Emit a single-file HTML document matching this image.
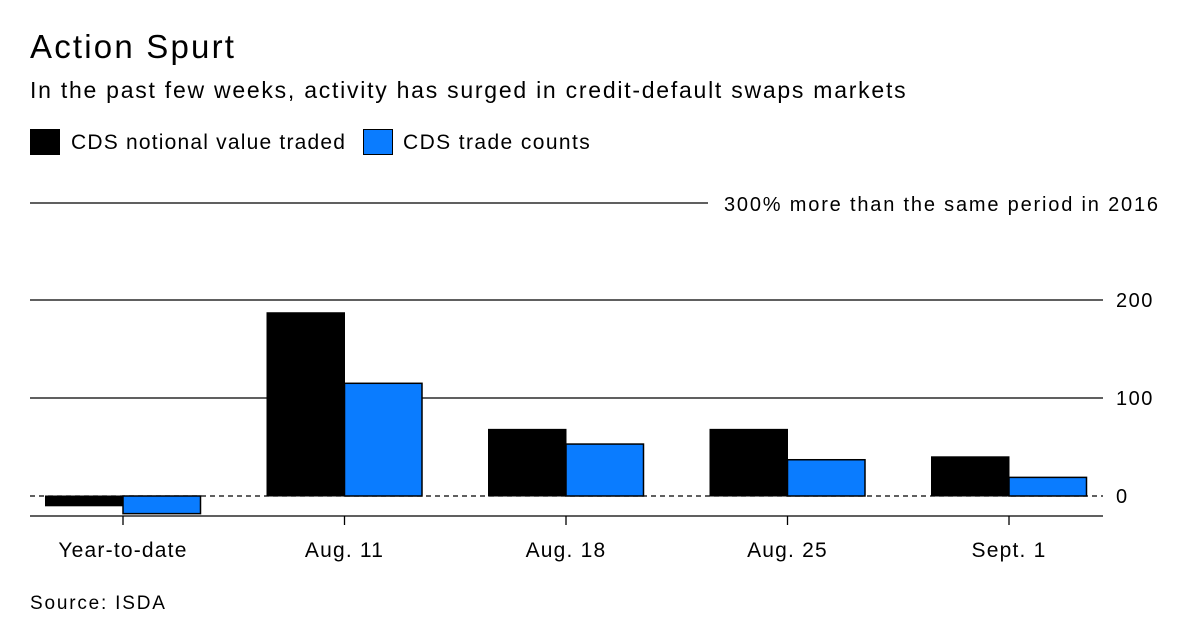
<!DOCTYPE html>
<html><head><meta charset="utf-8"><style>
body{margin:0;background:#fff;font-family:"Liberation Sans",sans-serif;}
#wrap{position:relative;width:1200px;height:637px;overflow:hidden;}
.t{position:absolute;white-space:nowrap;color:#000;}
</style></head><body>
<div id="wrap">
<div class="t" style="left:30px;top:28px;font-size:33px;letter-spacing:2.2px;">Action Spurt</div>
<div class="t" style="left:30px;top:77px;font-size:23px;letter-spacing:1.75px;">In the past few weeks, activity has surged in credit-default swaps markets</div>
<div style="position:absolute;left:30px;top:129px;width:30px;height:26px;background:#000;"></div>
<div class="t" style="left:71px;top:131px;font-size:21px;letter-spacing:1.2px;">CDS notional value traded</div>
<div style="position:absolute;left:363px;top:129px;width:28px;height:24px;background:#0a7cff;border:1px solid #000;"></div>
<div class="t" style="left:403px;top:131px;font-size:21px;letter-spacing:1.4px;">CDS trade counts</div>
<div class="t" style="left:30px;top:593px;font-size:19px;letter-spacing:1.8px;">Source: ISDA</div>
<svg id="svg" width="1200" height="637" style="position:absolute;left:0;top:0"></svg>
</div>
<script>
const categories=["Year-to-date","Aug. 11","Aug. 18","Aug. 25","Sept. 1"];
const notional=[-10,187,68,68,40];
const counts=[-18,115,53,37,19];
const yTicks=[0,100,200];
const NS="http://www.w3.org/2000/svg";
const svg=document.getElementById('svg');
const y=v=>496-v*0.98;
const cx=i=>123+i*221.5;
const bw=77.5;
function mk(t,a){const e=document.createElementNS(NS,t);for(const k in a)e.setAttribute(k,a[k]);svg.appendChild(e);return e;}
let e=mk('line',{x1:30,x2:708,y1:y(300)+1,y2:y(300)+1,stroke:'#000','stroke-width':1.3});


e=mk('text',{x:724,y:y(300)+9,'font-size':20,'font-family':'Liberation Sans',textLength:434,lengthAdjust:'spacing'});
e.textContent='300% more than the same period in 2016';


yTicks.forEach(v=>{
  if(v===0){
    e=mk('line',{x1:30,x2:1103,y1:y(0),y2:y(0),stroke:'#000','stroke-width':1.2,'stroke-dasharray':'5,4'});
  }else{
    e=mk('line',{x1:30,x2:1103,y1:y(v),y2:y(v),stroke:'#000','stroke-width':1.3});
  }
  
  
  e=mk('text',{x:1116,y:y(v)+7,'font-size':20,'font-family':'Liberation Sans','letter-spacing':1.5});
  e.textContent=v;
  
  
});
categories.forEach((c,i)=>{
  const a=notional[i],b=counts[i];
  e=mk('rect',{x:cx(i)-bw,y:Math.min(y(a),y(0)),width:bw,height:Math.abs(y(a)-y(0)),fill:'#000',stroke:'#000','stroke-width':1});
  
  
  e=mk('rect',{x:cx(i),y:Math.min(y(b),y(0)),width:bw,height:Math.abs(y(b)-y(0)),fill:'#0a7cff',stroke:'#000','stroke-width':1.5});
  
  
  e=mk('line',{x1:cx(i),x2:cx(i),y1:516,y2:525,stroke:'#000','stroke-width':1.3});
  
  
  e=mk('text',{x:cx(i),y:557,'text-anchor':'middle','font-size':21,'font-family':'Liberation Sans','letter-spacing':1.2});
  e.textContent=c;
  
  
});
e=mk('line',{x1:30,x2:1103,y1:516,y2:516,stroke:'#000','stroke-width':1.3});


</script>
</body></html>
